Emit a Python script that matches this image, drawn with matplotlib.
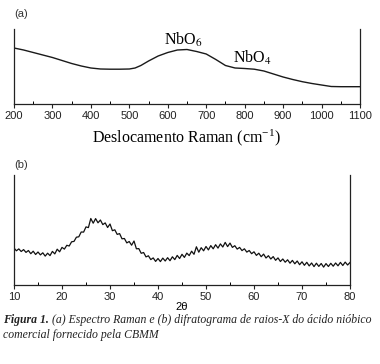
import numpy as np
import matplotlib as mpl

mpl.use("agg")
from matplotlib import pyplot as plt
from matplotlib.ticker import MultipleLocator

plt.rcParams["mathtext.fontset"] = "stix"

# (a) Raman spectrum, intensity in arbitrary units
raman_shift = [200, 225, 250, 275, 300, 325, 350, 375, 400, 425, 450, 475, 500,
               515, 530, 550, 575, 600, 625, 650, 675, 700, 725, 750, 775, 800,
               825, 850, 875, 900, 925, 950, 975, 1000, 1025, 1050, 1075, 1100]
raman_int = [56.0, 54.0, 51.5, 49.0, 46.5, 43.5, 40.5, 38.0, 36.0, 35.0, 34.8,
             34.8, 35.0, 36.0, 38.5, 43.0, 48.0, 51.5, 54.0, 54.5, 52.5, 50.0,
             44.5, 38.5, 36.0, 35.5, 34.8, 33.0, 30.0, 27.0, 24.5, 22.3, 20.5,
             19.0, 17.5, 17.3, 17.3, 17.3]
raman_ticks = [200, 300, 400, 500, 600, 700, 800, 900, 1000, 1100]

# (b) XRD pattern, 2theta from 10 to 80 in 0.5 steps
xrd_counts = [
    37.0, 34.2, 36.1, 33.5, 35.4, 32.6, 34.5, 31.3, 33.8, 30.5,
    33.0, 30.1, 32.2, 28.9, 31.8, 29.4, 33.6, 31.1, 35.8, 33.2,
    37.6, 35.9, 39.7, 39.0, 43.2, 43.6, 47.8, 48.2, 53.0, 52.9,
    58.1, 57.4, 66.5, 61.8, 66.4, 62.2, 65.0, 60.4, 62.1, 57.5,
    61.0, 54.3, 55.2, 50.6, 51.4, 46.2, 46.5, 42.1, 43.5, 39.8,
    44.0, 36.2, 36.4, 31.7, 32.5, 28.1, 29.2, 25.4, 27.1, 23.6,
    26.5, 23.4, 26.9, 24.0, 27.3, 24.3, 28.2, 25.4, 29.6, 26.5,
    30.7, 27.6, 31.9, 29.4, 33.8, 30.7, 38.2, 32.8, 37.3, 34.2,
    38.5, 35.1, 39.4, 36.2, 40.3, 36.9, 41.1, 38.0, 42.6, 38.4,
    41.9, 37.6, 39.3, 35.9, 37.6, 34.4, 36.2, 32.9, 34.5, 31.3,
    33.2, 29.6, 31.8, 28.3, 30.9, 27.0, 29.3, 26.0, 28.4, 24.7,
    27.1, 23.5, 26.0, 22.8, 25.2, 21.8, 24.6, 21.2, 24.0, 20.3,
    23.2, 19.7, 22.7, 19.1, 22.0, 18.4, 21.8, 18.6, 21.5, 17.9,
    21.4, 18.5, 21.7, 18.8, 22.0, 19.2, 22.6, 19.5, 22.9, 20.0,
    22.5,
]
two_theta = np.linspace(10, 80, len(xrd_counts))
xrd_ticks = [10, 20, 30, 40, 50, 60, 70, 80]

caption_bold = "Figura 1."
caption_rest = " (a) Espectro Raman e (b) difratograma de raios-X do ácido nióbico"
caption_line2 = "comercial fornecido pela CBMM"

W, H = 380, 364
fig = plt.figure(figsize=(W / 100, H / 100), dpi=100, facecolor="w")


def style_axes(ax):
    ax.spines["top"].set_visible(False)
    for s in ("left", "right", "bottom"):
        ax.spines[s].set_linewidth(0.9)
        ax.spines[s].set_color("#222222")
    ax.set_yticks([])
    ax.tick_params(axis="x", which="major", direction="out", length=3,
                   width=0.8, pad=2, labelsize=8, colors="#222222")
    ax.tick_params(axis="x", which="minor", direction="in", length=2,
                   width=0.7)
    for lab in ax.get_xticklabels():
        lab.set_family("Liberation Sans")


# panel (a)
ax_a = fig.add_axes([14 / W, 1 - 104 / H, 346 / W, 75 / H])
ax_a.plot(raman_shift, raman_int, color="#1a1a1a", lw=1.0)
ax_a.set_xlim(200, 1100)
ax_a.set_ylim(0, 75)
ax_a.set_xticks(raman_ticks)
ax_a.xaxis.set_minor_locator(MultipleLocator(50))
style_axes(ax_a)
ax_a.text(640, 64, r"NbO$_6$", ha="center", va="center", fontsize=11.5,
          family="Liberation Serif")
ax_a.text(820, 46, r"NbO$_4$", ha="center", va="center", fontsize=11.5,
          family="Liberation Serif")
ax_a.set_xlabel(r"Deslocamento Raman (cm$^{\mathregular{-1}}$)",
                family="Liberation Serif", fontsize=11.5, labelpad=5)
fig.text(14 / W, 1 - 14 / H, "(a)", ha="left", va="center", fontsize=8,
         family="Liberation Sans", color="#333333")

# panel (b)
ax_b = fig.add_axes([14 / W, 1 - 285 / H, 336 / W, 110 / H])
ax_b.plot(two_theta, xrd_counts, color="#111111", lw=0.9)
ax_b.set_xlim(10, 80)
ax_b.set_ylim(0, 110)
ax_b.set_xticks(xrd_ticks)
ax_b.xaxis.set_minor_locator(MultipleLocator(5))
style_axes(ax_b)
ax_b.set_xlabel("2θ", family="Liberation Sans", fontsize=8)
ax_b.xaxis.set_label_coords(0.5, -0.155)
fig.text(14 / W, 1 - 165 / H, "(b)", ha="left", va="center", fontsize=8,
         family="Liberation Sans", color="#333333")

# caption
t1 = fig.text(3 / W, 1 - 326 / H, caption_bold, ha="left", va="bottom",
              fontsize=8.45, family="Liberation Serif", style="italic",
              weight="bold", color="#222222")
ax_b.annotate(caption_rest, xy=(1, 0), xycoords=t1, ha="left", va="bottom",
              fontsize=8.45, family="Liberation Serif", style="italic",
              color="#222222", annotation_clip=False)
fig.text(3 / W, 1 - 341 / H, caption_line2, ha="left", va="bottom",
         fontsize=8.45, family="Liberation Serif", style="italic",
         color="#222222")

fig.savefig("out.png", dpi=100)
